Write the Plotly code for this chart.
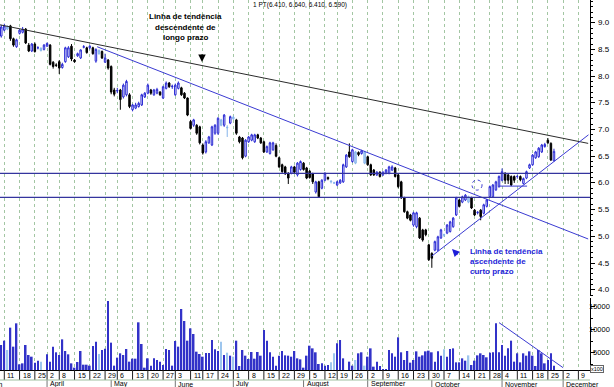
import pandas as pd
import plotly.graph_objects as go

# ---------------- data ----------------
open_ = [8.75, 8.86, 8.88, 8.94, 8.70, 8.55, 8.80, 8.82, 8.88, 8.58,
         8.47, 8.60, 8.53, 8.48, 8.50, 8.56, 8.58, 8.26, 8.21, 8.27,
         8.16, 8.27, 8.36, 8.56, 8.30, 8.38, 8.34, 8.54, 8.53, 8.53,
         8.53, 8.28, 8.42, 8.46, 8.26, 8.30, 8.18, 7.74, 7.72, 7.74,
         7.61, 7.65, 7.65, 7.37, 7.40, 7.43, 7.46, 7.61, 7.68, 7.74,
         7.65, 7.68, 7.70, 7.59, 7.77, 7.87, 7.80, 7.65, 7.77, 7.78,
         7.68, 7.59, 7.15, 7.08, 7.08, 7.05, 6.71, 6.58, 6.75, 6.71,
         6.93, 6.93, 7.08, 7.08, 7.03, 7.12, 7.20, 7.18, 6.86, 6.84,
         6.50, 6.77, 6.80, 6.77, 6.90, 6.84, 6.77, 6.58, 6.55, 6.62,
         6.70, 6.47, 6.34, 6.30, 6.18, 6.18, 6.30, 6.15, 6.25, 6.37,
         6.28, 6.22, 6.17, 5.83, 6.02, 5.90, 6.05, 6.10, 6.02, 6.00,
         5.96, 6.00, 6.02, 6.30, 6.58, 6.40, 6.37, 6.57, 6.55, 6.37,
         6.49, 6.34, 6.24, 6.15, 6.20, 6.15, 6.18, 6.18, 6.24, 6.28,
         6.15, 6.02, 5.72, 5.46, 5.40, 5.21, 5.18, 5.34, 5.12, 5.12,
         4.84, 4.68, 4.74, 4.74, 4.97, 5.02, 5.06, 5.09, 5.18, 5.40,
         5.68, 5.64, 5.68, 5.64, 5.72, 5.49, 5.44, 5.49, 5.43, 5.56,
         5.74, 5.74, 5.87, 5.93, 6.05, 6.18, 6.15, 6.12, 6.12, 6.12,
         6.12, 5.99, 6.09, 6.28, 6.34, 6.47, 6.49, 6.58, 6.68, 6.80,
         6.74, 6.41]
high_ = [8.96, 8.98, 8.95, 8.96, 8.72, 8.70, 8.88, 8.92, 8.90, 8.62,
         8.62, 8.63, 8.56, 8.54, 8.60, 8.63, 8.60, 8.28, 8.24, 8.30,
         8.25, 8.55, 8.56, 8.60, 8.32, 8.44, 8.50, 8.58, 8.55, 8.58,
         8.55, 8.52, 8.50, 8.48, 8.42, 8.32, 8.20, 7.78, 7.78, 7.76,
         7.86, 7.93, 7.68, 7.48, 7.50, 7.52, 7.67, 7.70, 7.86, 7.76,
         7.76, 7.78, 7.72, 7.82, 7.90, 7.89, 7.84, 7.86, 7.90, 7.80,
         7.70, 7.60, 7.18, 7.20, 7.10, 7.07, 6.74, 6.80, 6.88, 7.07,
         7.10, 7.23, 7.20, 7.29, 7.08, 7.26, 7.26, 7.20, 6.88, 6.86,
         6.82, 6.88, 6.92, 6.92, 6.92, 6.86, 6.79, 6.70, 6.77, 6.77,
         6.74, 6.49, 6.36, 6.32, 6.20, 6.32, 6.32, 6.39, 6.42, 6.39,
         6.30, 6.24, 6.19, 6.04, 6.04, 6.07, 6.20, 6.12, 6.05, 6.02,
         6.04, 6.07, 6.36, 6.54, 6.74, 6.64, 6.60, 6.59, 6.62, 6.60,
         6.51, 6.36, 6.26, 6.22, 6.22, 6.22, 6.26, 6.32, 6.33, 6.30,
         6.17, 6.04, 5.74, 5.48, 5.42, 5.46, 5.46, 5.36, 5.14, 5.14,
         4.86, 4.70, 4.92, 5.01, 5.14, 5.05, 5.23, 5.29, 5.36, 5.74,
         5.70, 5.76, 5.79, 5.76, 5.74, 5.51, 5.47, 5.51, 5.61, 5.70,
         5.95, 5.98, 6.04, 6.14, 6.27, 6.20, 6.17, 6.14, 6.14, 6.15,
         6.14, 6.10, 6.23, 6.36, 6.54, 6.60, 6.67, 6.73, 6.75, 6.84,
         6.76, 6.64]
low_ = [8.72, 8.84, 8.86, 8.66, 8.55, 8.53, 8.78, 8.80, 8.60, 8.45,
        8.45, 8.44, 8.50, 8.46, 8.48, 8.55, 8.20, 8.14, 8.17, 8.04,
        8.14, 8.25, 8.34, 8.28, 8.25, 8.36, 8.32, 8.52, 8.42, 8.50,
        8.40, 8.25, 8.40, 8.32, 8.25, 8.12, 7.66, 7.62, 7.68, 7.37,
        7.58, 7.62, 7.40, 7.34, 7.38, 7.41, 7.44, 7.59, 7.66, 7.65,
        7.63, 7.66, 7.63, 7.57, 7.75, 7.78, 7.76, 7.63, 7.75, 7.63,
        7.57, 7.25, 7.00, 7.05, 6.90, 6.72, 6.53, 6.55, 6.73, 6.69,
        6.90, 6.90, 7.06, 7.05, 6.86, 7.10, 7.18, 6.90, 6.74, 6.44,
        6.48, 6.75, 6.78, 6.75, 6.82, 6.73, 6.56, 6.56, 6.53, 6.60,
        6.48, 6.28, 6.19, 6.15, 5.98, 6.16, 6.18, 6.12, 6.23, 6.23,
        6.07, 6.08, 5.98, 5.80, 5.72, 5.88, 6.03, 6.05, 5.99, 5.98,
        5.94, 5.98, 6.00, 6.28, 6.47, 6.38, 6.35, 6.50, 6.53, 6.35,
        6.32, 6.13, 6.13, 6.13, 6.10, 6.13, 6.16, 6.16, 6.22, 6.10,
        5.90, 5.70, 5.44, 5.32, 5.28, 5.18, 5.15, 4.95, 4.90, 5.00,
        4.54, 4.41, 4.72, 4.72, 4.95, 4.99, 5.04, 5.07, 5.16, 5.38,
        5.54, 5.62, 5.66, 5.62, 5.51, 5.38, 5.41, 5.30, 5.41, 5.54,
        5.72, 5.72, 5.85, 5.91, 6.03, 5.98, 5.98, 5.94, 6.00, 6.08,
        6.03, 5.97, 6.07, 6.26, 6.32, 6.45, 6.47, 6.56, 6.66, 6.73,
        6.41, 6.41]
close_ = [8.92, 8.94, 8.93, 8.70, 8.58, 8.68, 8.86, 8.88, 8.62, 8.47,
          8.60, 8.46, 8.53, 8.52, 8.58, 8.61, 8.22, 8.18, 8.20, 8.15,
          8.22, 8.53, 8.53, 8.32, 8.27, 8.42, 8.49, 8.55, 8.44, 8.56,
          8.42, 8.50, 8.48, 8.34, 8.34, 8.15, 7.70, 7.66, 7.73, 7.56,
          7.83, 7.90, 7.43, 7.46, 7.46, 7.49, 7.65, 7.68, 7.83, 7.68,
          7.74, 7.75, 7.65, 7.80, 7.87, 7.80, 7.81, 7.83, 7.87, 7.65,
          7.59, 7.27, 7.02, 7.18, 6.93, 6.75, 6.56, 6.77, 6.86, 7.05,
          7.08, 7.21, 7.18, 7.27, 7.04, 7.24, 7.23, 6.93, 6.77, 6.47,
          6.80, 6.86, 6.90, 6.90, 6.84, 6.75, 6.58, 6.68, 6.75, 6.75,
          6.50, 6.30, 6.21, 6.17, 6.09, 6.30, 6.20, 6.37, 6.40, 6.25,
          6.09, 6.10, 6.02, 6.02, 5.74, 6.05, 6.18, 6.08, 6.03, 6.00,
          6.02, 6.05, 6.34, 6.52, 6.49, 6.62, 6.58, 6.53, 6.60, 6.58,
          6.34, 6.15, 6.15, 6.20, 6.12, 6.20, 6.24, 6.30, 6.30, 6.12,
          5.93, 5.72, 5.46, 5.34, 5.30, 5.44, 5.44, 4.97, 4.93, 5.03,
          4.56, 4.59, 4.90, 4.99, 5.12, 5.03, 5.21, 5.27, 5.34, 5.72,
          5.56, 5.74, 5.77, 5.74, 5.53, 5.40, 5.45, 5.37, 5.59, 5.68,
          5.93, 5.96, 6.02, 6.12, 6.21, 6.05, 6.05, 5.96, 6.05, 6.12,
          6.06, 6.08, 6.21, 6.34, 6.52, 6.58, 6.65, 6.71, 6.72, 6.75,
          6.43, 6.59]
# volume, in units of 100 shares (axis shows "x100")
volume = [6740, 7680, 5650, 10510, 6380, 11450, 2540, 2750, 6740, 4570,
          4200, 2900, 3330, 3120, 1300, 4710, 3120, 6380, 5150, 4570,
          7970, 5430, 4710, 2750, 1810, 3040, 5430, 2460, 2460, 2250,
          6520, 7460, 4780, 5650, 5940, 16300, 7250, 2250, 3990, 4930,
          4570, 5870, 3120, 3770, 3770, 11670, 6960, 1810, 3840, 2250,
          3840, 3480, 3120, 2390, 5870, 5650, 2250, 7610, 6380, 14570,
          11960, 7680, 10360, 9130, 5290, 4780, 4200, 5000, 5000, 7830,
          5800, 5430, 7460, 4570, 5070, 4420, 4200, 7680, 2170, 5650,
          4420, 3700, 5220, 3770, 5220, 4420, 10000, 7680, 5150, 4200,
          2250, 4420, 5430, 4490, 4420, 4200, 5430, 3840, 3620, 1810,
          4420, 6590, 6010, 5150, 2610, 2750, 2250, 2390, 2970, 4930,
          7100, 7830, 3840, 1300, 3120, 2250, 3480, 4930, 5150, 2250,
          4200, 6010, 2030, 3120, 2170, 1520, 1520, 5650, 4930, 4200,
          8410, 5150, 3480, 5430, 2900, 3480, 5360, 4200, 4490, 5360,
          5510, 5150, 3120, 5360, 4420, 5800, 4200, 5870, 6010, 2970,
          2970, 3840, 3330, 4490, 2390, 3330, 4490, 4930, 4570, 4060,
          5070, 5150, 11450, 5150, 6740, 4420, 6010, 7680, 3120, 4930,
          2970, 4930, 4420, 5360, 4420, 2170, 5650, 4930, 2750, 3480,
          4930, 2250]

holidays = ["2002-03-29", "2002-04-01", "2002-05-01", "2002-05-30",
            "2002-06-10", "2002-08-15", "2002-11-01"]
month_names = ["January", "February", "March", "April", "May", "June", "July",
               "August", "September", "October", "November", "December"]

price_ticks = [4.0, 4.5, 5.0, 5.5, 6.0, 6.5, 7.0, 7.5, 8.0, 8.5, 9.0]
volume_ticks = [5000, 10000, 15000]

# drawings (trading-day index, value)
long_trend_x, long_trend_y = [-0.41, 192.2], [8.96, 6.74]
down_trend_x, down_trend_y = [31.4, 192.2], [8.55, 4.95]
up_trend_x, up_trend_y = [141.0, 192.3], [4.63, 6.90]
support_levels = [6.18, 5.73]
base_x, base_y = [163.0, 172.2], [5.94, 5.94]
vol_trend_x, vol_trend_y = [163.0, 184.0], [11600, 1800]
circle_x, circle_y = 155.8, 5.96

# ---------------- calendar ----------------
cal = [d for d in pd.bdate_range("2002-03-08", "2002-12-13")
       if d.strftime("%Y-%m-%d") not in holidays]
N = len(close_)
idx = list(range(N))
week_idx = [i for i in range(1, len(cal))
            if cal[i].isocalendar()[1] != cal[i - 1].isocalendar()[1]]
month_idx = [i for i in range(1, len(cal)) if cal[i].month != cal[i - 1].month]

# ---------------- geometry helpers (plot area in pixels) ----------------
W, H = 590, 370
def pxx(x):
    return x / W
def pxy(y):
    return (H - y) / H

X_RANGE = [-0.41, 192.8]
FONT = "Liberation Sans, Arial, sans-serif"
BLUE = "#3232c8"
LIGHT = "#9ec6ee"

prev_close = [close_[0]] + close_[:-1]
groups = {
    "dark": [i for i in idx if close_[i] >= open_[i] and close_[i] >= prev_close[i]],
    "light": [i for i in idx if close_[i] >= open_[i] and close_[i] < prev_close[i]],
    "down": [i for i in idx if close_[i] < open_[i]],
}
styles = {
    "dark": dict(line=dict(color="#2a2ad4", width=1), fillcolor="white"),
    "light": dict(line=dict(color="#86b4ea", width=1), fillcolor="#b4d3f5"),
    "down": dict(line=dict(color="black", width=1), fillcolor="black"),
}

fig = go.Figure()
for name, g in groups.items():
    fig.add_trace(go.Candlestick(
        x=g, open=[open_[i] for i in g], high=[high_[i] for i in g],
        low=[low_[i] for i in g], close=[close_[i] for i in g],
        increasing=styles[name], decreasing=styles[name],
        whiskerwidth=0, xaxis="x", yaxis="y", hoverinfo="skip"))

light_set = set(groups["light"])
vol_colors = [LIGHT if i in light_set else BLUE for i in idx]
fig.add_trace(go.Bar(x=idx, y=volume, width=0.55, marker=dict(color=vol_colors, line=dict(width=0)),
                     base=0, xaxis="x2", yaxis="y2", hoverinfo="skip"))

fig.add_trace(go.Scatter(x=long_trend_x, y=long_trend_y, mode="lines",
                         line=dict(color="#2b2b2b", width=1), xaxis="x", yaxis="y"))
fig.add_trace(go.Scatter(x=down_trend_x, y=down_trend_y, mode="lines",
                         line=dict(color="#3a3ad2", width=1), xaxis="x", yaxis="y"))
fig.add_trace(go.Scatter(x=up_trend_x, y=up_trend_y, mode="lines",
                         line=dict(color="#3a3ad2", width=1), xaxis="x", yaxis="y"))
fig.add_trace(go.Scatter(x=base_x, y=base_y, mode="lines",
                         line=dict(color="#3a3ad2", width=1), xaxis="x", yaxis="y"))
fig.add_trace(go.Scatter(x=vol_trend_x, y=vol_trend_y, mode="lines",
                         line=dict(color="#3a3ad2", width=1), xaxis="x2", yaxis="y2"))

shapes = []
for lv in support_levels:
    shapes.append(dict(type="line", xref="paper", x0=0, x1=1, yref="y", y0=lv, y1=lv,
                       line=dict(color="#34349e", width=1.3)))
shapes.append(dict(type="circle", xref="x", yref="y", x0=circle_x - 1.65, x1=circle_x + 1.65,
                   y0=circle_y - 0.095, y1=circle_y + 0.095,
                   line=dict(color="#3a3ad2", width=1, dash="dot")))
# axis boxes below the chart
for i in week_idx:
    shapes.append(dict(type="line", xref="x", yref="paper", x0=i, x1=i, y0=pxy(370), y1=pxy(380),
                       line=dict(color="#222222", width=1)))
for i in month_idx:
    shapes.append(dict(type="line", xref="x", yref="paper", x0=i, x1=i, y0=pxy(380), y1=pxy(387),
                       line=dict(color="#777777", width=1)))
shapes.append(dict(type="line", xref="paper", yref="paper", x0=0, x1=1, y0=pxy(380), y1=pxy(380),
                   line=dict(color="#9fbf9f", width=1)))

ann = []
for t in price_ticks:
    ann.append(dict(xref="paper", yref="y", x=pxx(612), y=t, text=f"{t:.1f}", showarrow=False,
                    xanchor="right", yanchor="middle", font=dict(family=FONT, size=8, color="black")))
for t in volume_ticks:
    ann.append(dict(xref="paper", yref="y2", x=pxx(612), y=t, text=f"{t}", showarrow=False,
                    xanchor="right", yanchor="middle", font=dict(family=FONT, size=7.5, color="black")))
ann.append(dict(xref="paper", yref="paper", x=pxx(597), y=pxy(368.5), text="x100", showarrow=False,
                xanchor="center", yanchor="middle", bordercolor="#666666", borderwidth=1, borderpad=0,
                font=dict(family=FONT, size=5.5, color="black")))
for i in week_idx:
    if X_RANGE[0] < i < X_RANGE[1]:
        ann.append(dict(xref="x", yref="paper", x=i, y=pxy(375.5), text=str(cal[i].day), showarrow=False,
                        xanchor="left", yanchor="middle", xshift=1,
                        font=dict(family=FONT, size=7, color="black")))
for i in month_idx:
    if X_RANGE[0] < i < X_RANGE[1]:
        ann.append(dict(xref="x", yref="paper", x=i, y=pxy(384), text=month_names[cal[i].month - 1],
                        showarrow=False, xanchor="left", yanchor="middle", xshift=1,
                        font=dict(family=FONT, size=7, color="black")))
ann.append(dict(xref="paper", yref="paper", x=pxx(5), y=pxy(384), text=month_names[cal[0].month - 1],
                showarrow=False, xanchor="right", yanchor="middle",
                font=dict(family=FONT, size=7, color="black")))
ann.append(dict(xref="paper", yref="paper", x=pxx(250.5), y=pxy(5),
                text=f"1 PT({open_[-1]:.3f}, {high_[-1]:.3f}, {low_[-1]:.3f}, {close_[-1]:.3f})",
                showarrow=False, xanchor="left", yanchor="middle",
                font=dict(family=FONT, size=6.5, color="black")))
for txt, yy in [("Linha de tendência", 16.7), ("descendente de", 27.3), ("longo prazo", 37.7)]:
    ann.append(dict(xref="paper", yref="paper", x=pxx(185.5), y=pxy(yy), text=f"<b>{txt}</b>",
                    showarrow=False, xanchor="center", yanchor="middle",
                    font=dict(family=FONT, size=8, color="black")))
ann.append(dict(xref="paper", yref="paper", x=pxx(202), y=pxy(62), text="", showarrow=True,
                ax=0, ay=-9, arrowhead=2, arrowsize=1, arrowwidth=1.5, arrowcolor="black"))
for txt, yy in [("Linha de tendência", 251.3), ("ascendente de", 261.2), ("curto prazo", 271)]:
    ann.append(dict(xref="paper", yref="paper", x=pxx(468), y=pxy(yy), text=f"<b>{txt}</b>",
                    showarrow=False, xanchor="left", yanchor="middle",
                    font=dict(family=FONT, size=8, color="#1e1ed8")))
ann.append(dict(xref="paper", yref="paper", x=pxx(452), y=pxy(249), text="", showarrow=True,
                ax=7, ay=7, arrowhead=2, arrowsize=1, arrowwidth=1.5, arrowcolor="#1e1ed8"))

xcommon = dict(range=X_RANGE, tickmode="array", tickvals=week_idx, showticklabels=False, ticks="",
               showgrid=True, gridcolor="#a3c6a3", griddash="dot", gridwidth=1, zeroline=False,
               fixedrange=True)
fig.update_layout(
    width=614, height=387, margin=dict(l=0, r=24, t=0, b=17),
    paper_bgcolor="white", plot_bgcolor="white", showlegend=False,
    xaxis=dict(domain=[0, 1], anchor="y", showline=False, rangeslider=dict(visible=False), **xcommon),
    xaxis2=dict(domain=[0, 1], anchor="y2", matches="x", showline=True, linecolor="black",
                linewidth=1, **xcommon),
    yaxis=dict(domain=[0.2, 1], anchor="x", side="right", range=[3.882, 9.425],
               tickmode="array", tickvals=price_ticks, showticklabels=False, ticks="outside",
               ticklen=4, tickcolor="black", showline=True, linecolor="black", linewidth=1,
               showgrid=False, zeroline=False, fixedrange=True,
               minor=dict(tickmode="array", tickvals=[round(3.9 + 0.1 * k, 1) for k in range(56)],
                          ticks="outside", ticklen=2, tickcolor="black", showgrid=False)),
    yaxis2=dict(domain=[0, 0.1946], anchor="x2", side="right", range=[1304, 16957],
                tickmode="array", tickvals=volume_ticks, showticklabels=False, ticks="outside",
                ticklen=4, tickcolor="black", showline=True, linecolor="black", linewidth=1,
                showgrid=False, zeroline=False, fixedrange=True,
                minor=dict(tickmode="array", tickvals=[2500, 7500, 12500],
                           ticks="outside", ticklen=2, tickcolor="black", showgrid=False)),
    shapes=shapes, annotations=ann,
)
fig.write_html("out.html", config={"displayModeBar": False},
               post_script="document.body.style.margin='0';document.body.style.overflow='hidden';")
